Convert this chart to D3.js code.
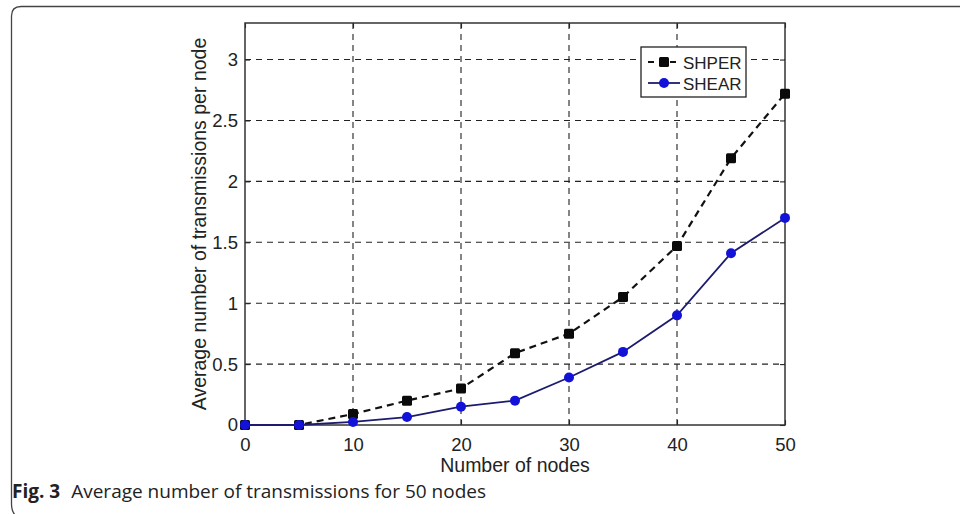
<!DOCTYPE html>
<html>
<head>
<meta charset="utf-8">
<script src="https://cdn.jsdelivr.net/npm/d3@7"></script>
<style>
  html, body { margin: 0; padding: 0; background: #fff; }
  svg { display: block; }
</style>
</head>
<body>
<svg id="chart" width="960" height="514"></svg>
<script>
// Number of nodes
const nodes = [0, 5, 10, 15, 20, 25, 30, 35, 40, 45, 50];
// Average number of transmissions per node
const shper = [0, 0, 0.09, 0.2, 0.3, 0.59, 0.75, 1.05, 1.47, 2.19, 2.72];
const shear = [0, 0, 0.025, 0.065, 0.15, 0.2, 0.39, 0.6, 0.9, 1.41, 1.7];
const xTicks = [0, 10, 20, 30, 40, 50];
const yTicks = [0, 0.5, 1, 1.5, 2, 2.5, 3];
const seriesNames = ["SHPER", "SHEAR"];

const svg = d3.select("#chart");
const plotL = 245, plotR = 785, plotT = 23, plotB = 425;

const x = d3.scaleLinear().domain([0, 50]).range([plotL, plotR]);
const y = d3.scaleLinear().domain([0, 3.3]).range([plotB, plotT]);

const font = "'Liberation Sans', Arial, Helvetica, sans-serif";

// card border: top and left edges with rounded corners
svg.append("path")
  .attr("d", "M 960 6.5 L 21 6.5 Q 11.5 6.5 11.5 16 L 11.5 504 Q 11.5 512 16 516")
  .attr("fill", "none").attr("stroke", "#444").attr("stroke-width", 1.3);

// grid
const grid = svg.append("g").attr("stroke", "#222").attr("stroke-width", 1.1)
  .attr("stroke-dasharray", "6,5");
xTicks.slice(1, -1).forEach(v => {
  grid.append("line").attr("x1", x(v)).attr("x2", x(v)).attr("y1", plotT).attr("y2", plotB);
});
yTicks.slice(1).forEach(v => {
  grid.append("line").attr("x1", plotL).attr("x2", plotR).attr("y1", y(v)).attr("y2", y(v));
});

// axes with inward ticks
const axB = svg.append("g").attr("transform", `translate(0,${plotB})`)
  .call(d3.axisBottom(x).tickValues(xTicks).tickSize(-5).tickPadding(13).tickFormat(d3.format("d")));
const axT = svg.append("g").attr("transform", `translate(0,${plotT})`)
  .call(d3.axisTop(x).tickValues(xTicks).tickSize(-5).tickFormat(""));
const axL = svg.append("g").attr("transform", `translate(${plotL},0)`)
  .call(d3.axisLeft(y).tickValues(yTicks).tickSize(-5).tickPadding(7).tickFormat(d => String(d)));
const axR = svg.append("g").attr("transform", `translate(${plotR},0)`)
  .call(d3.axisRight(y).tickValues(yTicks).tickSize(-5).tickFormat(""));
[axB, axT, axL, axR].forEach(a => {
  a.select(".domain").remove();
  a.selectAll("line").attr("stroke", "#222").attr("stroke-width", 1.1);
  a.selectAll("text").attr("font-family", font).attr("font-size", 18.5).attr("fill", "#222");
});

// frame
svg.append("rect").attr("x", plotL).attr("y", plotT)
  .attr("width", plotR - plotL).attr("height", plotB - plotT)
  .attr("fill", "none").attr("stroke", "#333").attr("stroke-width", 1.5);

// series
const line = d3.line().x((d, i) => x(nodes[i])).y(d => y(d));
svg.append("path").datum(shper).attr("d", line)
  .attr("fill", "none").attr("stroke", "#111").attr("stroke-width", 2.2)
  .attr("stroke-dasharray", "7,5");
svg.append("g").selectAll("rect").data(shper).join("rect")
  .attr("x", (d, i) => x(nodes[i]) - 5).attr("y", d => y(d) - 5)
  .attr("width", 10).attr("height", 10).attr("rx", 1.5).attr("fill", "#0a0a0a");

svg.append("path").datum(shear).attr("d", line)
  .attr("fill", "none").attr("stroke", "#1c1c6e").attr("stroke-width", 1.8);
svg.append("g").selectAll("circle").data(shear).join("circle")
  .attr("cx", (d, i) => x(nodes[i])).attr("cy", d => y(d)).attr("r", 5)
  .attr("fill", "#1212d8");

// legend
const lg = svg.append("g");
lg.append("rect").attr("x", 641).attr("y", 47).attr("width", 105).attr("height", 50)
  .attr("fill", "#fff").attr("stroke", "#222").attr("stroke-width", 1.3);
lg.append("line").attr("x1", 648).attr("x2", 680).attr("y1", 62).attr("y2", 62)
  .attr("stroke", "#111").attr("stroke-width", 2.2).attr("stroke-dasharray", "6,5");
lg.append("rect").attr("x", 659).attr("y", 57).attr("width", 10).attr("height", 10).attr("rx", 1.5).attr("fill", "#0a0a0a");
lg.append("line").attr("x1", 648).attr("x2", 680).attr("y1", 83).attr("y2", 83)
  .attr("stroke", "#1c1c6e").attr("stroke-width", 1.8);
lg.append("circle").attr("cx", 664).attr("cy", 83).attr("r", 5).attr("fill", "#1212d8");
lg.selectAll("text").data(seriesNames).join("text")
  .attr("x", 683).attr("y", (d, i) => 69 + i * 21)
  .attr("font-family", font).attr("font-size", 17).attr("fill", "#222").text(d => d);

// axis titles
svg.append("text").attr("x", (plotL + plotR) / 2).attr("y", 472).attr("text-anchor", "middle")
  .attr("font-family", font).attr("font-size", 19.5).attr("fill", "#222").text("Number of nodes");
svg.append("text").attr("transform", `translate(206,${(plotT + plotB) / 2}) rotate(-90)`)
  .attr("text-anchor", "middle")
  .attr("font-family", font).attr("font-size", 19.5).attr("fill", "#222")
  .text("Average number of transmissions per node");

// caption
const cap = svg.append("text").attr("x", 12).attr("y", 498)
  .attr("font-family", "'Open Sans', 'Noto Sans', sans-serif").attr("font-size", 19).attr("fill", "#222");
cap.append("tspan").attr("font-weight", "bold").text("Fig. 3");
cap.append("tspan").attr("dx", 11).text("Average number of transmissions for 50 nodes");
</script>
</body>
</html>
